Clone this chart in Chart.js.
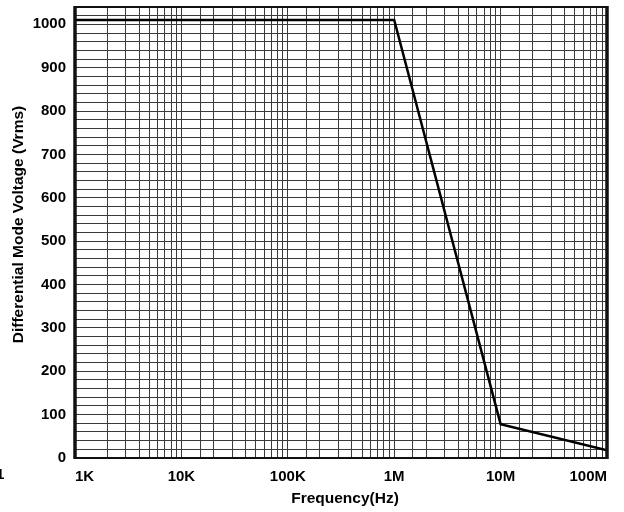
<!DOCTYPE html>
<html>
<head>
<meta charset="utf-8">
<script src="https://cdn.jsdelivr.net/npm/chart.js@4.4.1/dist/chart.umd.min.js"></script>
<style>
html,body{margin:0;padding:0;background:#fff;overflow:hidden;}
#wrap{position:relative;width:624px;height:512px;overflow:hidden;}
#c{position:absolute;left:0;top:-11px;}
</style>
</head>
<body>
<div id="wrap"><canvas id="c" width="624" height="523"></canvas></div>
<script>
const frequencies = [1000, 1000000, 10000000, 100000000];
const voltages = [1010, 1010, 78, 18];
const xTickLabels = {1000: '1K', 10000: '10K', 100000: '100K', 1000000: '1M', 10000000: '10M', 100000000: '100M'};
const yMin = 0, yMax = 1040, yStep = 20, yLabelStep = 100;
const xTitle = 'Frequency(Hz)';
const yTitle = 'Differential Mode Voltage (Vrms)';

const FONT = '"Liberation Sans", Arial, sans-serif';
const gridColor = '#3a3a3a';
const OFF = 11; // canvas is shifted up by this many pixels

const borderPlugin = {
  id: 'plotBorder',
  afterDraw(chart) {
    const {ctx, chartArea: a} = chart;
    ctx.save();
    ctx.strokeStyle = '#111';
    ctx.lineWidth = 2;
    ctx.beginPath();
    ctx.moveTo(a.left, a.top); ctx.lineTo(a.right, a.top);
    ctx.moveTo(a.left, a.bottom); ctx.lineTo(a.right, a.bottom);
    ctx.stroke();
    ctx.lineWidth = 3.5;
    ctx.beginPath();
    ctx.moveTo(a.left, a.top - 1); ctx.lineTo(a.left, a.bottom + 1);
    ctx.moveTo(a.right, a.top - 1); ctx.lineTo(a.right, a.bottom + 1);
    ctx.stroke();
    ctx.fillStyle = '#000';
    ctx.textBaseline = 'middle';
    // clipped stray label at far left
    ctx.font = 'bold 15px ' + FONT;
    ctx.textAlign = 'left';
    ctx.fillText('1', -4, 475 + OFF);
    // axis titles
    ctx.font = 'bold 15.5px ' + FONT;
    ctx.textAlign = 'center';
    ctx.fillText(xTitle, 345, 498.5 + OFF);
    ctx.translate(19, 224.5 + OFF);
    ctx.rotate(-Math.PI / 2);
    ctx.fillText(yTitle, 0, 0);
    ctx.restore();
  }
};

new Chart(document.getElementById('c'), {
  type: 'line',
  data: {
    datasets: [{
      data: frequencies.map((f, i) => ({x: f, y: voltages[i]})),
      borderColor: '#000',
      borderWidth: 2.5,
      pointRadius: 0,
      tension: 0,
      fill: false
    }]
  },
  options: {
    responsive: false,
    animation: false,
    devicePixelRatio: 1,
    layout: {padding: {left: 0, right: 17, top: 0, bottom: 0}},
    plugins: {legend: {display: false}, tooltip: {enabled: false}},
    scales: {
      x: {
        type: 'logarithmic',
        min: 1000,
        max: 100000000,
        grid: {color: gridColor, lineWidth: 1, drawTicks: false},
        border: {display: false},
        afterFit(s) { s.height = 54; },
        ticks: {
          autoSkip: false,
          maxRotation: 0,
          align: 'inner',
          padding: 10,
          color: '#000',
          font: {family: FONT, size: 15, weight: 'bold'},
          callback: (v) => xTickLabels[v] || ''
        },
        title: {display: false}
      },
      y: {
        min: yMin,
        max: yMax,
        grid: {color: gridColor, lineWidth: 1, drawTicks: false},
        border: {display: false},
        afterFit(s) { s.width = 75; },
        ticks: {
          stepSize: yStep,
          autoSkip: false,
          padding: 9,
          color: '#000',
          font: {family: FONT, size: 15, weight: 'bold'},
          callback: (v) => (v % yLabelStep === 0 && v <= 1000) ? String(v) : ''
        },
        title: {display: false}
      }
    }
  },
  plugins: [borderPlugin]
});
</script>
</body>
</html>
